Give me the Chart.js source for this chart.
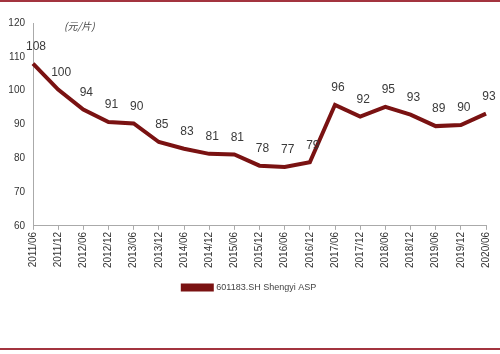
<!DOCTYPE html>
<html>
<head>
<meta charset="utf-8">
<script src="https://cdn.jsdelivr.net/npm/chart.js@4"></script>
<style>
  html, body { margin: 0; padding: 0; background: #fff; }
  #wrap { position: relative; width: 500px; height: 354px; }
  .rule { position: absolute; left: 0; width: 500px; height: 2px; background: #a3343f; }
  #unit { position: absolute; left: 64px; top: 18px; font: italic 10px "Noto Sans CJK SC", sans-serif; color: #444; }
</style>
</head>
<body>
<div id="wrap">
  <div class="rule" style="top:0"></div>
  <canvas id="aspChart" width="500" height="354"></canvas>
  <div id="unit">(元/片)</div>
  <div class="rule" style="top:348px"></div>
</div>
<script>
// Half-year periods and average selling price (yuan per panel)
const periods = ['2011/06', '2011/12', '2012/06', '2012/12', '2013/06', '2013/12', '2014/06',
    '2014/12', '2015/06', '2015/12', '2016/06', '2016/12', '2017/06', '2017/12', '2018/06',
    '2018/12', '2019/06', '2019/12', '2020/06'];
const aspValues = [108, 100.3, 94.4, 90.7, 90.3, 84.8, 82.8, 81.3, 81.1, 77.8, 77.4, 78.8,
    95.8, 92.3, 95.2, 92.9, 89.5, 89.8, 93.2];
const aspLabels = [108, 100, 94, 91, 90, 85, 83, 81, 81, 78, 77, 79, 96, 92, 95, 93, 89, 90, 93];
const yTicks = [60, 70, 80, 90, 100, 110, 120];

const lineColor = '#7a1212';

// simple value labels above each point
const valueLabels = {
    id: 'valueLabels',
    afterLayout(chart) {
        // nudge legend a bit right and down, like the original
        chart.legend.left += 5;
        chart.legend.right += 5;
        chart.legend.top += 2;
        chart.legend.bottom += 2;
    },
    afterDatasetsDraw(chart) {
        const ctx = chart.ctx;
        const meta = chart.getDatasetMeta(0);
        ctx.save();
        ctx.font = '12px "Liberation Sans", Arial, sans-serif';
        ctx.fillStyle = '#3a3a3a';
        ctx.textAlign = 'center';
        ctx.textBaseline = 'middle';
        meta.data.forEach((pt, i) => {
            ctx.fillText(String(aspLabels[i]), pt.x + 3, pt.y - 17);
        });
        ctx.restore();
    }
};

new Chart(document.getElementById('aspChart'), {
    type: 'line',
    data: {
        labels: periods,
        datasets: [{
            label: '601183.SH Shengyi ASP',
            data: aspValues,
            borderColor: lineColor,
            backgroundColor: lineColor,
            borderWidth: 4,
            pointRadius: 0,
            tension: 0,
            fill: false
        }]
    },
    options: {
        responsive: false,
        animation: false,
        layout: { padding: { top: 23, right: 11, left: 0, bottom: 54 } },
        plugins: {
            tooltip: { enabled: false },
            legend: {
                position: 'bottom',
                labels: {
                    boxWidth: 29,
                    boxHeight: 4,
                    padding: 11,
                    color: '#444',
                    font: { size: 9, family: '"Liberation Sans", Arial, sans-serif' }
                }
            }
        },
        scales: {
            x: {
                offset: false,
                grid: { drawOnChartArea: false, drawTicks: true, tickLength: 4, color: '#aaa' },
                border: { color: '#aaa' },
                ticks: {
                    minRotation: 90,
                    maxRotation: 90,
                    autoSkip: false,
                    color: '#333',
                    padding: 2,
                    font: { size: 10, family: '"Liberation Sans", Arial, sans-serif' }
                }
            },
            y: {
                min: 60,
                max: 120,
                afterBuildTicks: axis => { axis.ticks = yTicks.map(v => ({ value: v })); },
                afterFit: axis => { axis.width = 33; },
                grid: { display: false },
                border: { color: '#aaa' },
                ticks: {
                    color: '#333',
                    padding: 0,
                    font: { size: 10, family: '"Liberation Sans", Arial, sans-serif' }
                }
            }
        }
    },
    plugins: [valueLabels]
});
</script>
</body>
</html>
